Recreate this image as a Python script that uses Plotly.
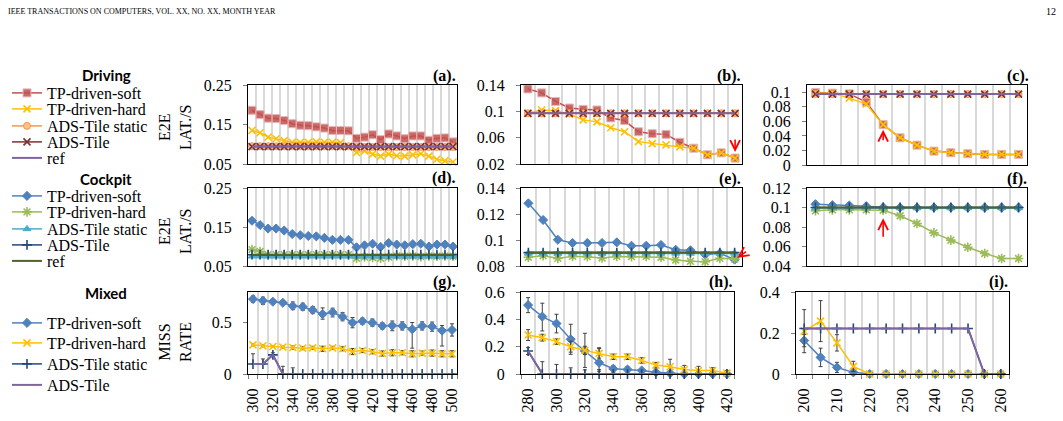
import plotly.graph_objects as go

W, H = 1063, 421

# ---------------- data ----------------
# x categories (rows 1-2 are sample indices, row 3 are loads)
idx_a = [1, 2, 3, 4, 5, 6, 7, 8, 9, 10, 11, 12, 13, 14, 15, 16, 17, 18, 19, 20, 21, 22, 23, 24, 25, 26]
idx_b = [1, 2, 3, 4, 5, 6, 7, 8, 9, 10, 11, 12, 13, 14, 15, 16]
idx_c = [1, 2, 3, 4, 5, 6, 7, 8, 9, 10, 11, 12, 13]
idx_e = [1, 2, 3, 4, 5, 6, 7, 8, 9, 10, 11, 12, 13, 14, 15]
load_g = [300, 310, 320, 330, 340, 350, 360, 370, 380, 390, 400, 410, 420, 430, 440, 450, 460, 470, 480, 490, 500]
load_h = [280, 290, 300, 310, 320, 330, 340, 350, 360, 370, 380, 390, 400, 410, 420]
load_i = [200, 205, 210, 215, 220, 225, 230, 235, 240, 245, 250, 255, 260]

# (a) Driving
a_soft = [0.186, 0.175, 0.166, 0.165, 0.160, 0.152, 0.148, 0.147, 0.144, 0.141, 0.135, 0.135, 0.134,
          0.115, 0.118, 0.124, 0.112, 0.126, 0.121, 0.114, 0.121, 0.121, 0.110, 0.115, 0.116, 0.106]
a_hard = [0.135, 0.129, 0.118, 0.114, 0.109, 0.105, 0.105, 0.105, 0.106, 0.105, 0.105, 0.104, 0.094,
          0.079, 0.083, 0.075, 0.070, 0.075, 0.071, 0.070, 0.073, 0.076, 0.070, 0.062, 0.058, 0.055]
a_static = [0.095, 0.095, 0.095, 0.095, 0.095, 0.095, 0.095, 0.095, 0.095, 0.095, 0.095, 0.095, 0.095,
            0.093, 0.093, 0.093, 0.093, 0.093, 0.093, 0.093, 0.093, 0.093, 0.093, 0.093, 0.093, 0.093]
a_ads = [0.094, 0.094, 0.094, 0.094, 0.094, 0.094, 0.094, 0.094, 0.094, 0.094, 0.094, 0.094, 0.094,
         0.094, 0.094, 0.094, 0.094, 0.094, 0.094, 0.094, 0.094, 0.094, 0.094, 0.094, 0.094, 0.094]
a_ref = [0.094, 0.094, 0.094, 0.094, 0.094, 0.094, 0.094, 0.094, 0.094, 0.094, 0.094, 0.094, 0.094,
         0.094, 0.094, 0.094, 0.094, 0.094, 0.094, 0.094, 0.094, 0.094, 0.094, 0.094, 0.094, 0.094]

# (b) Driving
b_soft = [0.134, 0.128, 0.115, 0.105, 0.103, 0.102, 0.090, 0.086, 0.069, 0.066, 0.065, 0.053, 0.044, 0.034, 0.037, 0.029]
b_hard = [0.097, 0.102, 0.101, 0.096, 0.087, 0.084, 0.075, 0.069, 0.054, 0.051, 0.049, 0.046, 0.044, 0.034, 0.037, 0.029]
b_static = [0.097, 0.097, 0.097, 0.097, 0.097, 0.097, 0.097, 0.097, 0.097, 0.097, 0.097, 0.097, 0.097, 0.097, 0.097, 0.097]
b_ads = [0.097, 0.097, 0.097, 0.097, 0.097, 0.097, 0.097, 0.097, 0.097, 0.097, 0.097, 0.097, 0.097, 0.097, 0.097, 0.097]
b_ref = [0.097, 0.097, 0.097, 0.097, 0.097, 0.097, 0.097, 0.097, 0.097, 0.097, 0.097, 0.097, 0.097, 0.097, 0.097, 0.097]

# (c) Driving
c_soft = [0.0996, 0.0988, 0.0978, 0.0865, 0.0555, 0.0374, 0.0273, 0.0191, 0.0169, 0.0155, 0.0146, 0.0146, 0.0146]
c_hard = [0.0988, 0.0988, 0.0920, 0.0838, 0.0555, 0.0374, 0.0273, 0.0191, 0.0169, 0.0155, 0.0146, 0.0146, 0.0146]
c_static = [0.0975, 0.0975, 0.0975, 0.0975, 0.0975, 0.0975, 0.0975, 0.0975, 0.0975, 0.0975, 0.0975, 0.0975, 0.0975]
c_ads = [0.0975, 0.0975, 0.0975, 0.0975, 0.0975, 0.0975, 0.0975, 0.0975, 0.0975, 0.0975, 0.0975, 0.0975, 0.0975]
c_ref = [0.0975, 0.0975, 0.0975, 0.0975, 0.0975, 0.0975, 0.0975, 0.0975, 0.0975, 0.0975, 0.0975, 0.0975, 0.0975]

# (d) Cockpit
d_soft = [0.166, 0.155, 0.146, 0.146, 0.141, 0.132, 0.129, 0.127, 0.126, 0.122, 0.117, 0.117, 0.117,
          0.098, 0.103, 0.107, 0.099, 0.109, 0.105, 0.103, 0.106, 0.107, 0.100, 0.105, 0.105, 0.100]
d_hard = [0.092, 0.087, 0.079, 0.079, 0.079, 0.079, 0.079, 0.079, 0.079, 0.079, 0.079, 0.079, 0.079,
          0.070, 0.073, 0.072, 0.070, 0.073, 0.076, 0.075, 0.076, 0.074, 0.076, 0.075, 0.076, 0.075]
d_static = [0.075, 0.075, 0.075, 0.075, 0.075, 0.075, 0.075, 0.075, 0.075, 0.075, 0.075, 0.075, 0.075,
            0.075, 0.075, 0.075, 0.075, 0.075, 0.075, 0.075, 0.075, 0.075, 0.075, 0.075, 0.075, 0.075]
d_ads = [0.079, 0.079, 0.079, 0.079, 0.079, 0.079, 0.079, 0.079, 0.079, 0.079, 0.079, 0.079, 0.079,
         0.079, 0.079, 0.079, 0.079, 0.079, 0.079, 0.079, 0.079, 0.079, 0.079, 0.079, 0.079, 0.079]
d_ref = [0.079, 0.079, 0.079, 0.079, 0.079, 0.079, 0.079, 0.079, 0.079, 0.079, 0.079, 0.079, 0.079,
         0.079, 0.079, 0.079, 0.079, 0.079, 0.079, 0.079, 0.079, 0.079, 0.079, 0.079, 0.079, 0.079]

# (e) Cockpit
e_soft = [0.1282, 0.1154, 0.1002, 0.0977, 0.0977, 0.0977, 0.0982, 0.0956, 0.0956, 0.0962, 0.0925, 0.0921, 0.0887, 0.0898, 0.0849]
e_hard = [0.0867, 0.0879, 0.0859, 0.0874, 0.0872, 0.0862, 0.0874, 0.0872, 0.0874, 0.0867, 0.0846, 0.0836, 0.0833, 0.0859, 0.0854]
e_static = [0.0897, 0.0897, 0.0897, 0.0897, 0.0897, 0.0897, 0.0897, 0.0897, 0.0897, 0.0897, 0.0897, 0.0897, 0.0897, 0.0897, 0.0897]
e_ads = [0.0903, 0.0903, 0.0903, 0.0903, 0.0903, 0.0903, 0.0903, 0.0903, 0.0903, 0.0903, 0.0903, 0.0903, 0.0903, 0.0903, 0.0903]
e_ref = [0.0903, 0.0903, 0.0903, 0.0903, 0.0903, 0.0903, 0.0903, 0.0903, 0.0903, 0.0903, 0.0903, 0.0903, 0.0903, 0.0903, 0.0903]

# (f) Cockpit
f_soft = [0.1034, 0.1024, 0.1021, 0.1014, 0.1003, 0.1000, 0.1000, 0.1000, 0.1000, 0.1000, 0.1000, 0.1000, 0.1000]
f_hard = [0.0966, 0.0976, 0.0976, 0.0976, 0.0972, 0.0915, 0.0836, 0.0740, 0.0665, 0.0593, 0.0528, 0.0477, 0.0477]
f_static = [0.0995, 0.0995, 0.0995, 0.0995, 0.0995, 0.0995, 0.0995, 0.0995, 0.0995, 0.0995, 0.0995, 0.0995, 0.0995]
f_ads = [0.1000, 0.1000, 0.1000, 0.1000, 0.1000, 0.1000, 0.1000, 0.1000, 0.1000, 0.1000, 0.1000, 0.1000, 0.1000]
f_ref = [0.1000, 0.1000, 0.1000, 0.1000, 0.1000, 0.1000, 0.1000, 0.1000, 0.1000, 0.1000, 0.1000, 0.1000, 0.1000]

# (g) Mixed - miss rate
g_soft = [0.731, 0.715, 0.705, 0.695, 0.663, 0.656, 0.624, 0.585, 0.602, 0.559, 0.501,
          0.515, 0.501, 0.469, 0.472, 0.469, 0.437, 0.469, 0.462, 0.423, 0.430]
g_soft_ep = [0.030, 0.035, 0.020, 0.020, 0.040, 0.035, 0.035, 0.060, 0.040, 0.040, 0.050,
             0.030, 0.035, 0.030, 0.045, 0.040, 0.065, 0.040, 0.045, 0.050, 0.060]
g_soft_em = [0.030, 0.035, 0.020, 0.020, 0.035, 0.035, 0.035, 0.050, 0.045, 0.040, 0.050,
             0.030, 0.035, 0.030, 0.050, 0.040, 0.185, 0.040, 0.045, 0.150, 0.060]
g_hard = [0.284, 0.275, 0.268, 0.262, 0.258, 0.252, 0.255, 0.246, 0.255, 0.246, 0.219,
          0.229, 0.217, 0.200, 0.207, 0.207, 0.197, 0.204, 0.204, 0.197, 0.197]
g_hard_e = [0.010, 0.010, 0.010, 0.010, 0.015, 0.015, 0.015, 0.025, 0.015, 0.020, 0.030,
            0.020, 0.020, 0.025, 0.030, 0.020, 0.030, 0.020, 0.030, 0.030, 0.030]
g_static = [0.097, 0.097, 0.187, 0, 0, 0, 0, 0, 0, 0, 0, 0, 0, 0, 0, 0, 0, 0, 0, 0, 0]
g_static_ep = [0.100, 0.050, 0.020, 0.075, 0.060, 0, 0, 0, 0, 0, 0, 0, 0, 0, 0, 0, 0, 0, 0, 0, 0]
g_static_em = [0, 0, 0.020, 0, 0, 0, 0, 0, 0, 0, 0, 0, 0, 0, 0, 0, 0, 0, 0, 0, 0]
g_ads = [0.097, 0.097, 0.187, 0, 0, 0, 0, 0, 0, 0, 0, 0, 0, 0, 0, 0, 0, 0, 0, 0, 0]

# (h) Mixed
h_soft = [0.504, 0.420, 0.369, 0.254, 0.168, 0.082, 0.038, 0.033, 0.026, 0.013, 0.006, 0, 0, 0, 0]
h_soft_ep = [0.055, 0.098, 0.068, 0.110, 0.130, 0.110, 0.025, 0.020, 0.015, 0.010, 0.010, 0.005, 0.005, 0.005, 0.005]
h_soft_em = [0.055, 0.105, 0.068, 0.110, 0.120, 0.050, 0.025, 0.020, 0.015, 0.010, 0.006, 0, 0, 0, 0]
h_hard = [0.285, 0.266, 0.237, 0.200, 0.173, 0.151, 0.126, 0.126, 0.099, 0.065, 0.053, 0.033, 0.026, 0.026, 0.006]
h_hard_e = [0.040, 0.025, 0.020, 0.040, 0.030, 0.035, 0.020, 0.020, 0.020, 0.020, 0.055, 0.030, 0.030, 0.020, 0.020]
h_static = [0.168, 0, 0, 0, 0, 0, 0, 0, 0, 0, 0, 0, 0, 0, 0]
h_static_ep = [0.025, 0.090, 0.070, 0.045, 0.030, 0.020, 0, 0, 0, 0, 0, 0, 0, 0, 0]
h_static_em = [0.025, 0, 0, 0, 0, 0, 0, 0, 0, 0, 0, 0, 0, 0, 0]
h_ads = [0.168, 0, 0, 0, 0, 0, 0, 0, 0, 0, 0, 0, 0, 0, 0]

# (i) Mixed
i_soft = [0.163, 0.081, 0.032, 0.008, 0, 0, 0, 0, 0, 0, 0, 0, 0]
i_soft_e = [0.030, 0.045, 0.025, 0.010, 0, 0, 0, 0, 0, 0, 0, 0, 0]
i_hard = [0.209, 0.258, 0.152, 0.037, 0, 0, 0, 0, 0, 0, 0, 0, 0]
i_hard_e = [0.105, 0.100, 0.040, 0.025, 0, 0, 0, 0, 0, 0, 0, 0, 0]
i_static = [0.222, 0.222, 0.222, 0.222, 0.222, 0.222, 0.222, 0.222, 0.222, 0.222, 0.222, 0, 0]
i_ads = [0.222, 0.222, 0.222, 0.222, 0.222, 0.222, 0.222, 0.222, 0.222, 0.222, 0.222, 0, 0]

names_drv = ["TP-driven-soft", "TP-driven-hard", "ADS-Tile static", "ADS-Tile", "ref"]
names_mix = ["TP-driven-soft", "TP-driven-hard", "ADS-Tile static", "ADS-Tile"]

# ---------------- styles ----------------
SERIF = "Liberation Serif, Times New Roman, serif"
SANS = "Lato, Open Sans, sans-serif"
GRID = "#D9D9D9"

def sty(color, lw=1.5, symbol=None, size=7, mcolor=None, mline=None, mlw=1.0):
    d = dict(line=dict(color=color, width=lw))
    if symbol is None:
        d["mode"] = "lines"
    else:
        d["mode"] = "lines+markers"
        d["marker"] = dict(symbol=symbol, size=size, color=mcolor or color,
                           line=dict(color=mline or color, width=mlw))
    return d

ST_DRV = [
    sty("#C0504D", symbol="square", size=8, mcolor="rgba(192,80,77,0.85)", mline="#E6B9B8", mlw=1),
    sty("#FFC000", symbol="x-thin-open", size=7, mlw=1.6),
    sty("#F79646", symbol="circle", size=7, mcolor="#FAC090", mline="#F79646", mlw=1),
    sty("#7F2E2E", symbol="x-thin-open", size=7, mlw=1.6),
    sty("#8064A2", lw=2),
]
ST_CKP = [
    sty("#4F81BD", symbol="diamond", size=7),
    sty("#9BBB59", symbol="asterisk-open", size=8, mlw=1.6),
    sty("#4BACC6", symbol="triangle-up", size=7),
    sty("#1F497D", symbol="cross-thin-open", size=7, mlw=1.6),
    sty("#4F6228", lw=2),
]
ST_MIX = [
    sty("#4F81BD", symbol="diamond", size=7),
    sty("#FFC000", symbol="x-thin-open", size=7, mlw=1.6),
    sty("#1F497D", symbol="cross-thin-open", size=7, mlw=1.6),
    sty("#8064A2", lw=2),
]

fig = go.Figure()

def add(k, x, y, st, name, legend=None, ep=None, em=None):
    kw = dict(st)
    tr = go.Scatter(x=x, y=y, name=name, xaxis="x%d" % k, yaxis="y%d" % k,
                    showlegend=legend is not None, cliponaxis=False, **kw)
    if legend is not None:
        tr.legend = legend
    if ep is not None:
        tr.error_y = dict(type="data", symmetric=False, array=ep,
                          arrayminus=em if em is not None else ep,
                          color="#404040", thickness=1, width=2)
    fig.add_trace(tr)

legend_ids = ["legend"] + ["legend%d" % i for i in range(2, 15)]

# Driving
for j, ys in enumerate([a_soft, a_hard, a_static, a_ads, a_ref]):
    add(1, idx_a, ys, ST_DRV[j], names_drv[j], legend=legend_ids[j])
for j, ys in enumerate([b_soft, b_hard, b_static, b_ads, b_ref]):
    add(2, idx_b, ys, ST_DRV[j], names_drv[j])
for j, ys in enumerate([c_soft, c_hard, c_static, c_ads, c_ref]):
    add(3, idx_c, ys, ST_DRV[j], names_drv[j])
# Cockpit
for j, ys in enumerate([d_soft, d_hard, d_static, d_ads, d_ref]):
    add(4, idx_a, ys, ST_CKP[j], names_drv[j], legend=legend_ids[5 + j])
for j, ys in enumerate([e_soft, e_hard, e_static, e_ads, e_ref]):
    add(5, idx_e, ys, ST_CKP[j], names_drv[j])
for j, ys in enumerate([f_soft, f_hard, f_static, f_ads, f_ref]):
    add(6, idx_c, ys, ST_CKP[j], names_drv[j])
# Mixed
add(7, load_g, g_soft, ST_MIX[0], names_mix[0], legend_ids[10], g_soft_ep, g_soft_em)
add(7, load_g, g_hard, ST_MIX[1], names_mix[1], legend_ids[11], g_hard_e)
add(7, load_g, g_static, ST_MIX[2], names_mix[2], legend_ids[12], g_static_ep, g_static_em)
add(7, load_g, g_ads, ST_MIX[3], names_mix[3], legend_ids[13])
add(8, load_h, h_soft, ST_MIX[0], names_mix[0], None, h_soft_ep, h_soft_em)
add(8, load_h, h_hard, ST_MIX[1], names_mix[1], None, h_hard_e)
add(8, load_h, h_static, ST_MIX[2], names_mix[2], None, h_static_ep, h_static_em)
add(8, load_h, h_ads, ST_MIX[3], names_mix[3])
add(9, load_i, i_soft, ST_MIX[0], names_mix[0], None, i_soft_e)
add(9, load_i, i_hard, ST_MIX[1], names_mix[1], None, i_hard_e)
add(9, load_i, i_static, ST_MIX[2], names_mix[2])
add(9, load_i, i_ads, ST_MIX[3], names_mix[3])

# ---------------- layout ----------------
def xd(l, r):
    return [l / W, r / W]

def yd(t, b):
    return [1 - b / H, 1 - t / H]

panels = {
    1: dict(x=(248, 457), y=(85, 164), xr=[0.5, 26.5], yr=[0.05, 0.25], tv=[0.05, 0.15, 0.25], tt=["0.05", "0.15", "0.25"]),
    2: dict(x=(521, 742), y=(85, 164), xr=[0.5, 16.5], yr=[0.02, 0.14], tv=[0.02, 0.06, 0.1, 0.14], tt=["0.02", "0.06", "0.1", "0.14"]),
    3: dict(x=(807, 1027), y=(85, 165), xr=[0.5, 13.5], yr=[0, 0.11], tv=[0, 0.02, 0.04, 0.06, 0.08, 0.1], tt=["0", "0.02", "0.04", "0.06", "0.08", "0.1"]),
    4: dict(x=(248, 457), y=(188, 266), xr=[0.5, 26.5], yr=[0.05, 0.25], tv=[0.05, 0.15, 0.25], tt=["0.05", "0.15", "0.25"]),
    5: dict(x=(521, 742), y=(188, 266), xr=[0.5, 15.5], yr=[0.08, 0.14], tv=[0.08, 0.1, 0.12, 0.14], tt=["0.08", "0.1", "0.12", "0.14"]),
    6: dict(x=(807, 1027), y=(188, 266), xr=[0.5, 13.5], yr=[0.04, 0.12], tv=[0.04, 0.06, 0.08, 0.1, 0.12], tt=["0.04", "0.06", "0.08", "0.1", "0.12"]),
    7: dict(x=(248, 457), y=(292, 374), xr=[295, 505], yr=[0, 0.8], tv=[0, 0.5], tt=["0", "0.5"], bt=(300, 20, 295, 10)),
    8: dict(x=(521, 734), y=(292, 374), xr=[275, 425], yr=[0, 0.6], tv=[0, 0.2, 0.4, 0.6], tt=["0", "0.2", "0.4", "0.6"], bt=(280, 20, 275, 10)),
    9: dict(x=(796, 1009), y=(292, 374), xr=[197.5, 262.5], yr=[0, 0.4], tv=[0, 0.2, 0.4], tt=["0", "0.2", "0.4"], bt=(200, 10, 197.5, 5)),
}

lay = dict(width=W, height=H, margin=dict(l=0, r=0, t=0, b=0, autoexpand=False),
           paper_bgcolor="white", plot_bgcolor="white",
           font=dict(family=SERIF, size=16, color="black"))

for k, p in panels.items():
    xa = dict(domain=xd(*p["x"]), anchor="y%d" % k, range=p["xr"], showline=True, mirror=True,
              linecolor="black", linewidth=1, showgrid=False, zeroline=False, automargin=False)
    if "bt" in p:
        t0, dt, m0, mdt = p["bt"]
        xa.update(tickmode="linear", tick0=t0, dtick=dt, ticks="", showticklabels=True,
                  tickangle=-90, tickfont=dict(family=SERIF, size=16, color="black"),
                  ticklabelstandoff=7,
                  minor=dict(tick0=m0, dtick=mdt, showgrid=True, gridcolor=GRID, gridwidth=1.5,
                             ticks="outside", ticklen=4, tickcolor="#7F7F7F"))
    else:
        xa.update(tickmode="linear", tick0=1, dtick=1, ticks="", showticklabels=False,
                  minor=dict(tick0=0.5, dtick=1, showgrid=True, gridcolor=GRID, gridwidth=1.5))
    ya = dict(domain=yd(*p["y"]), anchor="x%d" % k, range=p["yr"], tickmode="array",
              tickvals=p["tv"], ticktext=p["tt"], showline=True, mirror=True, linecolor="black",
              linewidth=1, showgrid=False, zeroline=False, ticks="outside", ticklen=4,
              tickcolor="#7F7F7F", tickfont=dict(family=SERIF, size=16, color="black"),
              ticklabelstandoff=8, automargin=False)
    lay["xaxis%d" % k] = xa
    lay["yaxis%d" % k] = ya

# one legend per entry to control vertical spacing
leg_y = [93, 109, 126, 142, 158, 196, 212, 229, 245, 261, 323, 343, 364, 385]
for lid, yc in zip(legend_ids, leg_y):
    lay[lid] = dict(x=7 / W, y=1 - yc / H, xanchor="left", yanchor="middle",
                    bgcolor="rgba(0,0,0,0)", borderwidth=0, itemwidth=30,
                    font=dict(family=SERIF, size=16, color="black"))

fig.update_layout(**lay)

# ---------------- annotations ----------------
def px_ann(x, y, text, xanchor="center", **kw):
    d = dict(xref="paper", yref="paper", x=x / W, y=1 - y / H, text=text, showarrow=False,
             xanchor=xanchor, yanchor="middle")
    d.update(kw)
    fig.add_annotation(**d)

px_ann(6, 12, "IEEE TRANSACTIONS ON COMPUTERS, VOL. XX, NO. XX, MONTH YEAR", xanchor="left",
       font=dict(family=SERIF, size=8, color="black"))
px_ann(1058, 12, "12", xanchor="right", font=dict(family=SERIF, size=10, color="black"))

for t, yy in [("Driving", 75), ("Cockpit", 179), ("Mixed", 293)]:
    px_ann(106, yy, "<b>%s</b>" % t, font=dict(family=SANS, size=15, color="black"))

for t, yy in [("E2E<br>LAT./S", 128), ("E2E<br>LAT./S", 232), ("MISS<br>RATE", 342)]:
    px_ann(175, yy, t, textangle=-90, font=dict(family=SERIF, size=16, color="black"))

for lab, xr, yy in [("(a).", 458, 76), ("(b).", 743, 76), ("(c).", 1031, 76),
                    ("(d).", 458, 178), ("(e).", 743, 179), ("(f).", 1029, 179),
                    ("(g).", 458, 282), ("(h).", 735, 282), ("(i).", 1010, 282)]:
    px_ann(xr, yy, "<b>%s</b>" % lab, xanchor="right", font=dict(family=SERIF, size=16, color="black"))

# red arrows pointing at marked samples
arrow = dict(showarrow=True, arrowhead=5, arrowsize=1.2, arrowwidth=1.6, arrowcolor="red", text="")
fig.add_annotation(x=idx_b[-1], y=b_soft[-1], xref="x2", yref="y2", ax=0, ay=-20, standoff=6, **arrow)
fig.add_annotation(x=idx_c[4], y=c_soft[4], xref="x3", yref="y3", ax=0, ay=17, standoff=5, **arrow)
fig.add_annotation(x=idx_e[-1], y=e_soft[-1], xref="x5", yref="y5", ax=13, ay=-9, standoff=3, **arrow)
fig.add_annotation(x=idx_c[4], y=f_hard[4], xref="x6", yref="y6", ax=0, ay=28, standoff=8, **arrow)

fig.write_html("out.html")
